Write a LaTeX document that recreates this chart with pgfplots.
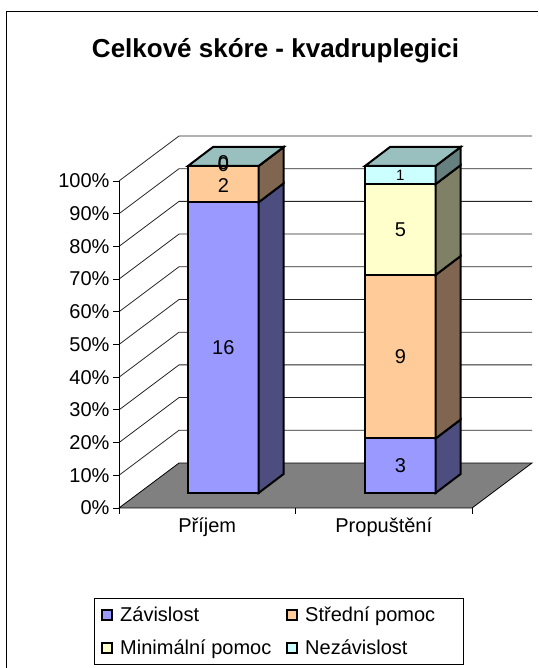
\documentclass[border=0pt]{standalone}
\usepackage{pgfplots}
\pgfplotsset{compat=1.18}
\usepackage{fontspec}
\setmainfont{Liberation Sans}

\definecolor{zavF}{HTML}{9999FF}
\definecolor{zavS}{HTML}{4D4D80}
\definecolor{strF}{HTML}{FFCC99}
\definecolor{strS}{HTML}{806650}
\definecolor{minF}{HTML}{FFFFCC}
\definecolor{minS}{HTML}{808066}
\definecolor{nezF}{HTML}{CCFFFF}
\definecolor{nezS}{HTML}{668080}
\definecolor{nezT}{HTML}{99BFBF}
\definecolor{floorC}{HTML}{808080}

% Data (counts):   Prijem  Propusteni
% Zavislost          16        3
% Stredni pomoc       2        9
% Minimalni pomoc     0        5
% Nezavislost         0        1
\def\tot{18}
\def\bw{0.40}   % bar width
\def\fdx{0.113} % shift of bar front face
\def\fdy{4.6}
\def\bdx{0.142} % bar depth
\def\bdy{5.81}
\newcommand\lbl{\fontsize{20}{24}\selectfont}

% #1 left of bar, #2 cumulative start, #3 count, #4 front colour, #5 side colour
\newcommand\seg[5]{%
  \pgfmathsetmacro\xa{#1+\fdx}%
  \pgfmathsetmacro\xb{#1+\fdx+\bw}%
  \pgfmathsetmacro\xc{\xb+\bdx}%
  \pgfmathsetmacro\ya{#2/\tot*100+\fdy}%
  \pgfmathsetmacro\yb{(#2+#3)/\tot*100+\fdy}%
  \pgfmathsetmacro\yc{\ya+\bdy}%
  \pgfmathsetmacro\yd{\yb+\bdy}%
  \edef\doplot{%
    \noexpand\addplot[barline, fill=#4] coordinates {(\xa,\ya) (\xb,\ya) (\xb,\yb) (\xa,\yb)} --cycle;%
    \noexpand\addplot[barline, fill=#5] coordinates {(\xb,\ya) (\xc,\yc) (\xc,\yd) (\xb,\yb)} --cycle;%
  }\doplot
}
% top face: #1 left of bar, #2 colour
\newcommand\topface[2]{%
  \pgfmathsetmacro\xa{#1+\fdx}%
  \pgfmathsetmacro\xb{#1+\fdx+\bw}%
  \pgfmathsetmacro\xc{\xb+\bdx}%
  \pgfmathsetmacro\xd{\xa+\bdx}%
  \pgfmathsetmacro\yb{100+\fdy}%
  \pgfmathsetmacro\yd{\yb+\bdy}%
  \edef\doplot{%
    \noexpand\addplot[barline, fill=#2] coordinates {(\xa,\yb) (\xb,\yb) (\xc,\yd) (\xd,\yd)} --cycle;%
  }\doplot
}
% label: #1 left, #2 start, #3 count, #4 node options
\newcommand\lab[4]{%
  \pgfmathsetmacro\xm{#1+\fdx+\bw/2}%
  \pgfmathsetmacro\ym{(#2+#3/2)/\tot*100+\fdy}%
  \edef\donode{%
    \noexpand\node[inner sep=0pt, #4] at (axis cs:\xm,\ym) {#3};%
  }\donode
}

\begin{document}
\begin{tikzpicture}[x=1pt,y=1pt]
\path[use as bounding box] (0,0) rectangle (538,668);
% chart frame
\draw[line width=0.8pt] (6,0) -- (6,657) -- (538,657);
% title
\node[font=\fontsize{26}{30}\selectfont\bfseries, anchor=base] at (275.5,610) {Celkové skóre - kvadruplegici};

\begin{axis}[
  at={(119pt,160pt)}, anchor=south west,
  x=176.5pt, y=3.27pt,
  xmin=0, xmax=2.4, ymin=0, ymax=120,
  clip=false,
  axis lines*=left,
  axis line style={draw=none},
  tick align=outside,
  major tick length=6pt,
  tick style={black, line width=0.8pt},
  ytick={0,10,20,30,40,50,60,70,80,90,100},
  yticklabels={0\%,10\%,20\%,30\%,40\%,50\%,60\%,70\%,80\%,90\%,100\%},
  xtick={0,1,2},
  xticklabels={},
  extra x ticks={0.5,1.5},
  extra x tick labels={Příjem,Propuštění},
  extra x tick style={tick style={draw=none}},
  tick label style={font=\lbl},
  barline/.style={draw=black, line width=2pt},
]
% floor
\addplot[fill=floorC, draw=black, line width=0.8pt] coordinates {(0,0) (2,0) (2.34,13.76) (0.34,13.76)} --cycle;
% gridlines (side wall diagonal + back wall)
\addplot[black!85, line width=0.8pt] coordinates {(0,10) (0.34,23.76) (2.34,23.76)};
\addplot[black!85, line width=0.8pt] coordinates {(0,20) (0.34,33.76) (2.34,33.76)};
\addplot[black!85, line width=0.8pt] coordinates {(0,30) (0.34,43.76) (2.34,43.76)};
\addplot[black!85, line width=0.8pt] coordinates {(0,40) (0.34,53.76) (2.34,53.76)};
\addplot[black!85, line width=0.8pt] coordinates {(0,50) (0.34,63.76) (2.34,63.76)};
\addplot[black!85, line width=0.8pt] coordinates {(0,60) (0.34,73.76) (2.34,73.76)};
\addplot[black!85, line width=0.8pt] coordinates {(0,70) (0.34,83.76) (2.34,83.76)};
\addplot[black!85, line width=0.8pt] coordinates {(0,80) (0.34,93.76) (2.34,93.76)};
\addplot[black!85, line width=0.8pt] coordinates {(0,90) (0.34,103.76) (2.34,103.76)};
\addplot[black!85, line width=0.8pt] coordinates {(0,100) (0.34,113.76) (2.34,113.76)};
% axis line
\draw[black, line width=0.8pt] (axis cs:0,0) -- (axis cs:0,100);

% Prijem
\seg{0.278}{0}{16}{zavF}{zavS}
\seg{0.278}{16}{2}{strF}{strS}
\seg{0.278}{18}{0}{minF}{minS}
\seg{0.278}{18}{0}{nezF}{nezS}
\topface{0.278}{nezT}
% Propusteni
\seg{1.281}{0}{3}{zavF}{zavS}
\seg{1.281}{3}{9}{strF}{strS}
\seg{1.281}{12}{5}{minF}{minS}
\seg{1.281}{17}{1}{nezF}{nezS}
\topface{1.281}{nezT}

% value labels
\lab{0.278}{0}{16}{font=\noexpand\lbl}
\lab{0.278}{16}{2}{font=\noexpand\lbl, yshift=-1.5pt}
\lab{0.278}{18}{0}{font=\noexpand\lbl, yshift=3pt}
\lab{0.278}{18}{0}{font=\noexpand\lbl, yshift=1.5pt}
\lab{1.281}{0}{3}{font=\noexpand\lbl}
\lab{1.281}{3}{9}{font=\noexpand\lbl}
\lab{1.281}{12}{5}{font=\noexpand\lbl}
\lab{1.281}{17}{1}{font=\noexpand\fontsize{15}{18}\noexpand\selectfont}
\end{axis}

% legend
\draw[line width=0.8pt] (94,4) rectangle (463,70);
\draw[fill=zavF, line width=1.5pt] (102,48) rectangle (112,58);
\node[font=\lbl, anchor=base west, inner sep=0pt] at (120,46) {Závislost};
\draw[fill=strF, line width=1.5pt] (287,48) rectangle (297,58);
\node[font=\lbl, anchor=base west, inner sep=0pt] at (305,46) {Střední pomoc};
\draw[fill=minF, line width=1.5pt] (102,15) rectangle (112,25);
\node[font=\lbl, anchor=base west, inner sep=0pt] at (120,13) {Minimální pomoc};
\draw[fill=nezF, line width=1.5pt] (287,15) rectangle (297,25);
\node[font=\lbl, anchor=base west, inner sep=0pt] at (305,13) {Nezávislost};
\end{tikzpicture}
\end{document}
